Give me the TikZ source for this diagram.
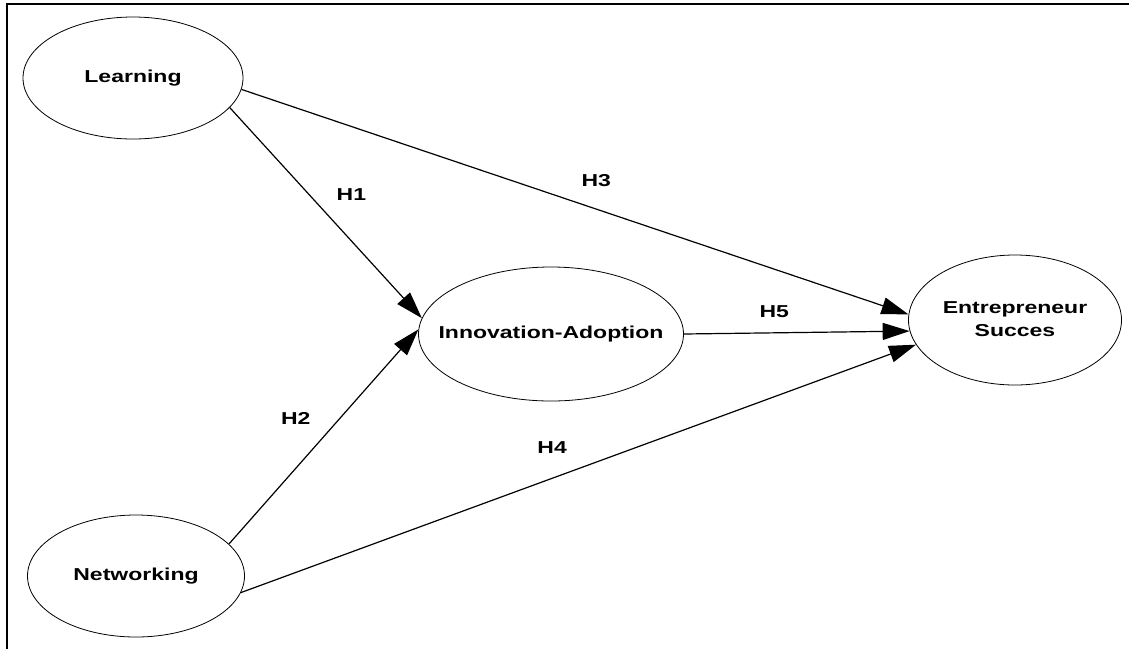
\documentclass[tikz,border=0pt]{standalone}
\usepackage{graphicx}
\usepackage{fontspec}
\setmainfont{Liberation Sans}
\usetikzlibrary{arrows.meta,shapes.geometric}

\newcommand{\squash}[1]{\makebox[0pt]{\scalebox{1}[0.75]{\begin{tabular}{@{}c@{}}#1\end{tabular}}}}

\begin{document}
\begin{tikzpicture}[x=1pt,y=-1pt,->,>={Triangle[length=27pt,width=17pt]},line width=1.2pt,
    construct/.style={ellipse,draw,line width=0.8pt,inner sep=0pt,font=\bfseries\fontsize{23}{31}\selectfont},
    hyp/.style={inner sep=0pt,font=\bfseries\fontsize{23}{31}\selectfont}]

  \useasboundingbox (0,0) rectangle (1129,649);
  \draw[-,line width=2.3pt] (7,649) -- (7,4) -- (1129,4);

  \node[construct,minimum width=220pt,minimum height=122pt] (learn) at (133,78) {\squash{Learning}};
  \node[construct,minimum width=217pt,minimum height=122pt] (net) at (136,576) {\squash{Networking}};
  \node[construct,minimum width=265pt,minimum height=134pt] (innov) at (551,334) {\squash{Innovation-Adoption}};
  \node[construct,minimum width=213pt,minimum height=130pt] (succ) at (1015,320) {\squash{Entrepreneur\\Succes}};

  \draw (learn.-17) -- (innov.173) node[hyp,pos=0.42,xshift=41pt] {\squash{H1}};
  \draw (net.19) -- (innov.178) node[hyp,pos=0.58,xshift=-43pt] {\squash{H2}};
  \draw (learn.-6) -- (succ.177) node[hyp,pos=0.532,yshift=27pt] {\squash{H3}};
  \draw (net.-9) -- (succ.194) node[hyp,pos=0.461,yshift=29pt] {\squash{H4}};
  \draw (innov.east) -- (succ.186) node[hyp,pos=0.40,yshift=20pt] {\squash{H5}};

\end{tikzpicture}
\end{document}
